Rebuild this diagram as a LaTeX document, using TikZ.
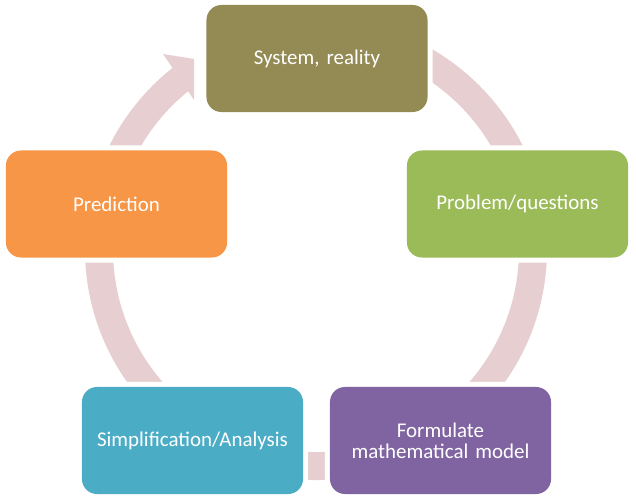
\documentclass[tikz,border=0pt]{standalone}
\usepackage{fontspec}
\setmainfont{Carlito}
\usepackage{tikz}
\definecolor{ringpink}{RGB}{230,206,209}
\definecolor{olivebox}{RGB}{148,138,84}
\definecolor{greenbox}{RGB}{155,187,89}
\definecolor{purplebox}{RGB}{128,100,162}
\definecolor{tealbox}{RGB}{75,172,198}
\definecolor{orangebox}{RGB}{247,150,70}
\tikzstyle{stage} = [rectangle, rounded corners=0.375cm, minimum width=5.525cm, minimum height=2.675cm, text width=5.4cm, inner sep=1pt, text centered, text=white, font=\fontsize{14.9}{15}\selectfont\frenchspacing, preaction={draw=white, line width=0.25cm}]
\tikzstyle{ring} = [line width=0.7cm, draw=ringpink]

\begin{document}
\begin{tikzpicture}[x=0.025cm, y=0.025cm]
\useasboundingbox (0,0) rectangle (636,499);
\coordinate (hub) at (316,250);
% cycle behind the boxes
\draw[ring] ([shift={(90:5.425cm)}]hub) arc[start angle=90, end angle=-232, radius=5.425cm];
\fill[ringpink] (163,445) -- (194,440) -- (194,399) -- cycle;

\node[stage, fill=olivebox] (reality) at (317,440.5) {System, reality};
\node[stage, fill=greenbox] (questions) at (517.5,295) {Problem/questions};
\node[stage, fill=purplebox] (model) at (440.5,58.5) {Formulate\\mathematical model};
\node[stage, fill=tealbox] (analysis) at (192.5,58.5) {Simplification/Analysis};
\node[stage, fill=orangebox] (prediction) at (116.5,295) {Prediction};
\end{tikzpicture}
\end{document}
